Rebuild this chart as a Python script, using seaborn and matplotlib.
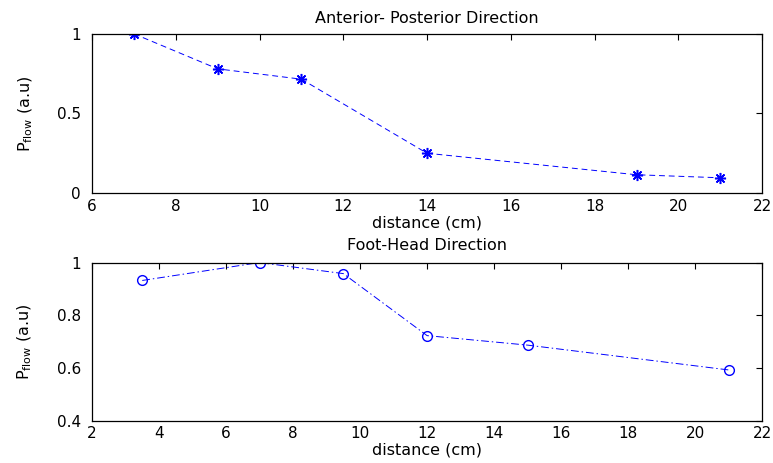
import numpy as np
import pandas as pd
import matplotlib
matplotlib.use("Agg")
import matplotlib.pyplot as plt
import seaborn as sns

# Anterior-Posterior data
ap_distance = [7, 9, 11, 14, 19, 21]
ap_pflow = [1.0, 0.78, 0.715, 0.25, 0.115, 0.096]

# Foot-Head data
fh_distance = [3.5, 7, 9.5, 12, 15, 21]
fh_pflow = [0.932, 1.0, 0.958, 0.723, 0.687, 0.593]

ap_xticks = [6, 8, 10, 12, 14, 16, 18, 20, 22]
ap_yticks = [0, 0.5, 1]
fh_xticks = [2, 4, 6, 8, 10, 12, 14, 16, 18, 20, 22]
fh_yticks = [0.4, 0.6, 0.8, 1]

sns.set_style("white")
plt.rcParams["font.family"] = ["DejaVu Sans"]
plt.rcParams["mathtext.default"] = "regular"
plt.rcParams["xtick.direction"] = "in"
plt.rcParams["ytick.direction"] = "in"
plt.rcParams["xtick.top"] = True
plt.rcParams["ytick.right"] = True
plt.rcParams["text.color"] = "black"
plt.rcParams["axes.labelcolor"] = "black"
plt.rcParams["xtick.color"] = "black"
plt.rcParams["ytick.color"] = "black"

fig = plt.figure(figsize=(7.73, 4.63), dpi=100)
ax1 = fig.add_axes([0.119, 0.583, 0.867, 0.344])
ax2 = fig.add_axes([0.119, 0.091, 0.867, 0.342])

df_ap = pd.DataFrame({"distance": ap_distance, "pflow": ap_pflow})
df_fh = pd.DataFrame({"distance": fh_distance, "pflow": fh_pflow})

sns.lineplot(data=df_ap, x="distance", y="pflow", ax=ax1, color="blue",
             linestyle=(0, (6, 4)), linewidth=0.7, marker=(8, 2, 0), markersize=8,
             markeredgecolor="blue", markeredgewidth=1.1)
sns.lineplot(data=df_fh, x="distance", y="pflow", ax=ax2, color="blue",
             linestyle=(0, (8, 3, 1.5, 3)), linewidth=0.7, marker="o", markersize=7,
             markeredgecolor="blue", markerfacecolor="none", markeredgewidth=1)

def style(ax, xticks, yticks, title, title_pad):
    ax.set_xlim(xticks[0], xticks[-1])
    ax.set_ylim(yticks[0], yticks[-1])
    ax.set_xticks(xticks)
    ax.set_yticks(yticks)
    ax.set_yticklabels([f"{t:g}" for t in yticks])
    ax.tick_params(axis="both", labelsize=11, length=4, width=0.8, color="black")
    ax.tick_params(axis="x", pad=4)
    ax.tick_params(axis="y", pad=8)
    for s in ax.spines.values():
        s.set_color("black")
        s.set_linewidth(0.9)
    ax.set_title(title, fontsize=11.5, pad=title_pad)
    ax.set_xlabel("distance (cm)", fontsize=11.5, labelpad=1)
    ax.set_ylabel("$P_{flow}$ (a.u)", fontsize=11.5, labelpad=16)

style(ax1, ap_xticks, ap_yticks, "Anterior- Posterior Direction", 8)
style(ax2, fh_xticks, fh_yticks, "Foot-Head Direction", 9)

fig.savefig("out.png", dpi=100)
